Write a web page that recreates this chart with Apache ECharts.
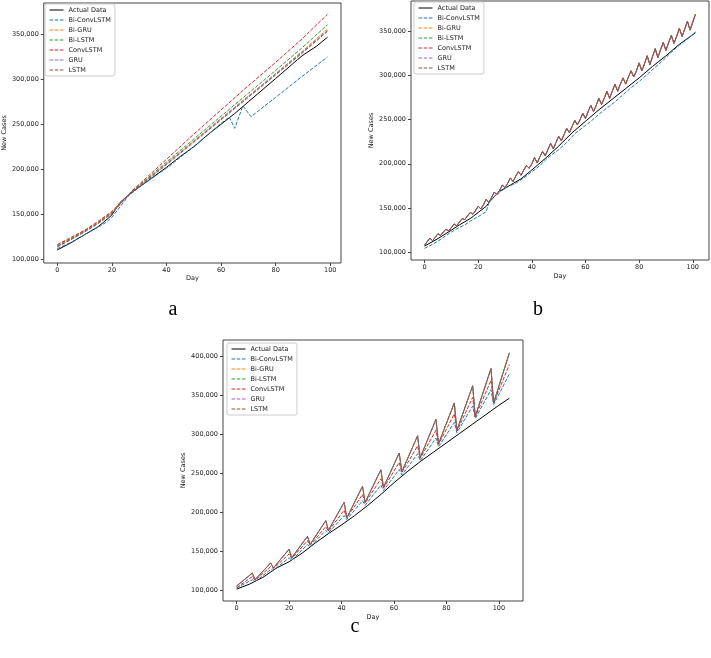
<!DOCTYPE html>
<html><head><meta charset="utf-8">
<script src="https://cdn.jsdelivr.net/npm/echarts@6/dist/echarts.min.js"></script>
<style>html,body{margin:0;padding:0;background:#fff}#chart{width:711px;height:658px}</style>
</head><body><div id="chart"></div>
<script>
const seriesNames = ['Actual Data','Bi-ConvLSTM','Bi-GRU','Bi-LSTM','ConvLSTM','GRU','LSTM'];
const seriesColors = ['#000000','#1f77b4','#ff7f0e','#2ca02c','#d62728','#9467bd','#8c564b'];
const dayTicks = [0,20,40,60,80,100];
const caseTicksAB = [100000,150000,200000,250000,300000,350000];
const caseTicksC = [100000,150000,200000,250000,300000,350000,400000];

// ---- panel a : [day, cases]
const aActual = [[0,110000],[5,118000],[10,127000],[15,136000],[17,141000],[20,149000],[23,163000],[26,171000],[30,180000],[35,191000],[40,202000],[45,214000],[50,225000],[55,238000],[60,250000],[65,262000],[70,275000],[75,288000],[80,301000],[85,314000],[88,322000],[90,327000],[95,337000],[99,347000]];
const aBiConvLSTM = [[0,111500],[5,118500],[10,127000],[15,135500],[18,141000],[20,146500],[23,158000],[26,170000],[30,180000],[40,201000],[50,225000],[60,251000],[63,258000],[65,245500],[68,270500],[71,258500],[80,280000],[90,304000],[99,325000]];
const aBiGRU = [[0,115000],[5,123000],[10,131500],[15,141000],[20,152000],[25,168500],[28,177000],[30,181500],[40,206500],[50,231500],[60,256500],[70,281500],[80,306500],[90,332000],[99,356000]];
const aBiLSTM = [[0,114500],[5,122500],[10,131000],[15,140500],[20,151500],[25,168000],[28,177500],[30,182000],[40,208000],[50,233500],[60,259000],[70,284500],[80,310000],[90,336000],[99,361000]];
const aConvLSTM = [[0,116000],[5,124000],[10,132000],[15,142000],[20,153000],[25,168000],[28,178000],[30,183000],[40,211000],[50,239000],[60,266000],[70,293000],[80,319000],[90,346000],[99,372500]];
const aGRU = [[0,114000],[5,122000],[10,130500],[15,140000],[20,151000],[25,168000],[28,176500],[30,181000],[40,206000],[50,231000],[60,256000],[70,281000],[80,306000],[90,331000],[99,354500]];
const aLSTM = [[0,113500],[5,121500],[10,130000],[15,139500],[20,150500],[25,167500],[28,176000],[30,180500],[40,205000],[50,230000],[60,255000],[70,280000],[80,305000],[90,330000],[99,353500]];

// ---- panel b
const bActual = [[0,107000],[5,115500],[10,125000],[13,131000],[17,138000],[20,145000],[23,152000],[25,160000],[28,169000],[32,176000],[36,183000],[40,193000],[45,206000],[50,220000],[55,235000],[60,248000],[65,261000],[70,273000],[75,285000],[80,297000],[85,310000],[90,322000],[95,335000],[101,348000]];
const bBiConvLSTM = [[0,104500],[3,109000],[6,114500],[9,121000],[12,126500],[15,131000],[18,137000],[21,142000],[23,146000],[24,156000],[26,163000],[28,168000],[31,174000],[34,178000],[37,184000],[40,191000],[43,198000],[46,207000],[50,216000],[53,224000],[56,234000],[59,241000],[62,248000],[65,256000],[68,263000],[71,270000],[74,278000],[77,286000],[80,293000],[83,301000],[86,309000],[89,317000],[92,326000],[95,334000],[98,341000],[101,349000]];
// daily values (day = index) of the overlapping saw-tooth forecasts
const bSawtooth = [108000,112000,116000,113000,117000,121000,119000,123000,126000,124000,
128000,132000,130000,134000,138000,137000,141000,145000,143000,147000,
152000,149000,154000,160000,156000,162000,168000,165000,170000,176000,
173000,178000,184000,180000,186000,191000,187000,193000,198000,195000,
200000,207000,201000,208000,214000,209000,216000,223000,217000,224000,
231000,226000,233000,240000,235000,242000,249000,244000,250000,257000,
251000,259000,266000,259000,266000,274000,267000,274000,282000,274000,
282000,290000,282000,290000,297000,290000,298000,305000,298000,305000,
314000,305000,313000,322000,312000,321000,330000,320000,329000,337000,
328000,337000,345000,336000,344000,353000,344000,352000,361000,351000,
360000,369000];

// ---- panel c
const cActual = [[0,102000],[5,108500],[10,117000],[15,128500],[20,137000],[25,148000],[30,161000],[35,173000],[40,184000],[45,196000],[50,209000],[55,223000],[60,238000],[65,252000],[70,265000],[75,277000],[80,289000],[85,301000],[90,313000],[95,325000],[100,337000],[104,346000]];
const cSawtooth = [[0,106000],[6,122500],[7,114000],[13,135500],[14,129000],[20,153000],[21,142000],[27,169500],[28,159000],[34,189500],[35,177000],[41,213000],[42,193000],[48,233500],[49,213000],[55,254500],[56,232000],[62,276000],[63,252000],[69,298000],[70,270000],[76,319000],[77,288000],[83,340000],[84,305000],[90,362000],[91,323000],[97,384000],[98,340000],[104,404000]];
const cConvLSTM = [[0,104000],[6,118000],[7,113000],[13,131000],[14,128000],[20,147000],[21,141000],[27,164000],[28,158000],[34,182000],[35,176000],[41,203000],[42,193000],[48,223000],[49,212000],[55,243000],[56,231000],[62,264000],[63,251000],[69,285000],[70,269000],[76,305000],[77,287000],[83,326000],[84,304000],[90,347000],[91,322000],[97,369000],[98,340000],[104,389000]];
const cBiConvLSTM = [[0,103500],[6,114000],[7,111500],[13,127000],[14,126000],[20,142000],[21,139000],[27,159000],[28,156000],[34,177000],[35,174000],[41,196000],[42,191000],[48,215000],[49,209000],[55,235000],[56,228000],[62,255000],[63,248000],[69,275000],[70,266000],[76,295000],[77,284000],[83,315000],[84,302000],[90,336000],[91,320000],[97,357000],[98,338000],[104,377000]];

const FONT = 'DejaVu Sans';
const DASH = [3.6, 1.6];

function mk(name, data, g, offset) {
  const i = seriesNames.indexOf(name);
  return {
    name, type: 'line', data, xAxisIndex: g, yAxisIndex: g,
    symbol: 'none', showSymbol: false, silent: true, animation: false,
    color: seriesColors[i],
    lineStyle: { color: seriesColors[i], width: 1, type: i === 0 ? 'solid' : DASH, dashOffset: offset || 0 },
    emphasis: { disabled: true }
  };
}

const bPairs = bSawtooth.map((v, d) => [d, v]);

const series = [
  mk('Actual Data', aActual, 0), mk('Bi-ConvLSTM', aBiConvLSTM, 0), mk('Bi-GRU', aBiGRU, 0),
  mk('Bi-LSTM', aBiLSTM, 0), mk('ConvLSTM', aConvLSTM, 0), mk('GRU', aGRU, 0), mk('LSTM', aLSTM, 0),

  mk('Actual Data', bActual, 1), mk('Bi-ConvLSTM', bBiConvLSTM, 1), mk('Bi-GRU', bPairs, 1, 0),
  mk('Bi-LSTM', bPairs, 1, 1), mk('ConvLSTM', bPairs, 1, 2.6), mk('GRU', bPairs, 1, 3.4), mk('LSTM', bPairs, 1, 4.4),

  mk('Actual Data', cActual, 2), mk('Bi-ConvLSTM', cBiConvLSTM, 2), mk('Bi-GRU', cSawtooth, 2, 0),
  mk('Bi-LSTM', cSawtooth, 2, 1), mk('ConvLSTM', cConvLSTM, 2), mk('GRU', cSawtooth, 2, 2.6), mk('LSTM', cSawtooth, 2, 3.6)
];

const grids = [
  { left: 42, top: 3, width: 299, height: 260 },
  { left: 411, top: 1, width: 298, height: 259 },
  { left: 223, top: 340, width: 300, height: 261 }
].map(g => Object.assign(g, { show: true, borderColor: '#444', borderWidth: 1, backgroundColor: 'rgba(0,0,0,0)', containLabel: false }));

const xRanges = [[-4.95, 103.95], [-5.05, 106.05], [-5.2, 109.2]];
const yRanges = [[95500, 385100], [91300, 383900], [86800, 420500]];
const yTicks = [caseTicksAB, caseTicksAB, caseTicksC];
const yNameGap = [33, 35, 34];
const xNameGap = [12, 13, 13];

const xAxis = xRanges.map((r, g) => ({
  gridIndex: g, type: 'value', min: r[0], max: r[1], position: 'bottom',
  splitLine: { show: false }, axisLine: { show: false, onZero: false },
  axisTick: { show: true, customValues: dayTicks, length: 3, lineStyle: { color: '#444', width: 1 } },
  axisLabel: { customValues: dayTicks, fontSize: 6.5, color: '#222', margin: 4, fontFamily: FONT },
  name: 'Day', nameLocation: 'middle', nameGap: xNameGap[g],
  nameTextStyle: { fontSize: 6.5, color: '#222', fontFamily: FONT }
}));

const yAxis = yRanges.map((r, g) => ({
  gridIndex: g, type: 'value', min: r[0], max: r[1], position: 'left',
  splitLine: { show: false }, axisLine: { show: false, onZero: false },
  axisTick: { show: true, customValues: yTicks[g], length: 3, lineStyle: { color: '#444', width: 1 } },
  axisLabel: { customValues: yTicks[g], fontSize: 6.5, color: '#222', margin: 5, fontFamily: FONT,
    formatter: v => Number(v).toLocaleString('en-US') },
  name: 'New Cases', nameLocation: 'middle', nameGap: yNameGap[g], nameRotate: 90,
  nameTextStyle: { fontSize: 6.5, color: '#222', fontFamily: FONT }
}));

const legendPos = [[45, 4], [414, 2], [227, 343]];
const legend = legendPos.map(p => ({
  data: seriesNames, orient: 'vertical', left: p[0], top: p[1],
  itemWidth: 14, itemHeight: 8, itemGap: 2, padding: [2, 4, 2, 4],
  backgroundColor: 'rgba(255,255,255,0.85)', borderColor: '#cccccc', borderWidth: 1, borderRadius: 2,
  selectedMode: false,
  itemStyle: { opacity: 0, borderWidth: 0 },
  lineStyle: { width: 1 },
  textStyle: { fontSize: 6.5, color: '#222', fontFamily: FONT, lineHeight: 8 }
}));

const chart = echarts.init(document.getElementById('chart'), null, { renderer: 'canvas' });
chart.setOption({
  animation: false,
  backgroundColor: '#ffffff',
  grid: grids, xAxis, yAxis, legend, series,
  graphic: [
    { type: 'text', x: 173, y: 310, style: { text: 'a', font: '20px "Liberation Serif"', fill: '#000', textAlign: 'center', textVerticalAlign: 'middle' } },
    { type: 'text', x: 538, y: 310, style: { text: 'b', font: '20px "Liberation Serif"', fill: '#000', textAlign: 'center', textVerticalAlign: 'middle' } },
    { type: 'text', x: 355, y: 627, style: { text: 'c', font: '20px "Liberation Serif"', fill: '#000', textAlign: 'center', textVerticalAlign: 'middle' } }
  ]
});
</script></body></html>
